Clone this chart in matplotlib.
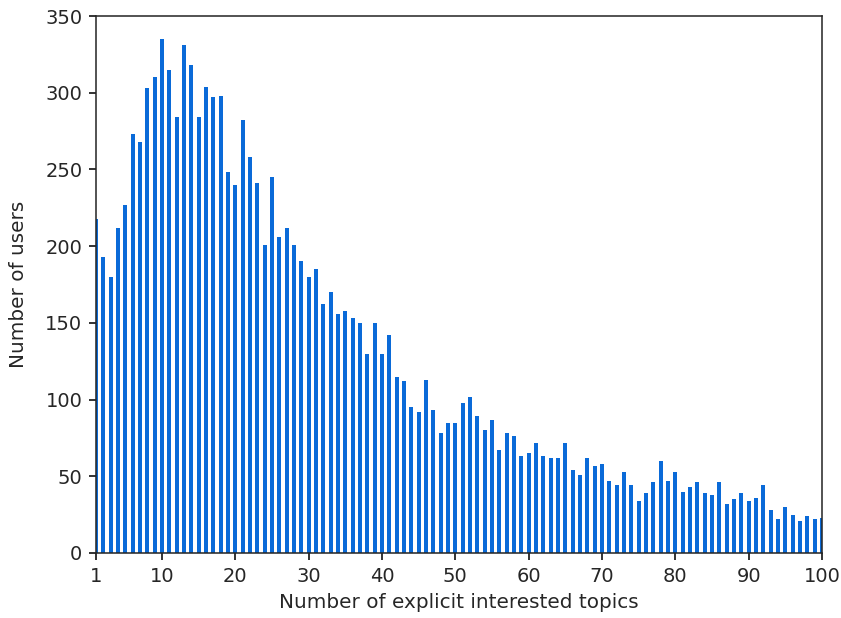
import numpy as np
import matplotlib
matplotlib.use('Agg')
import matplotlib.pyplot as plt

# number of explicit interested topics (1..100) and user counts
topics = list(range(1, 101))
users = [218, 193, 180, 212, 227, 273, 268, 303, 310, 335,
         315, 284, 331, 318, 284, 304, 297, 298, 248, 240,
         282, 258, 241, 201, 245, 206, 212, 201, 190, 180,
         185, 162, 170, 156, 158, 153, 150, 130, 150, 130,
         142, 115, 112, 95, 92, 113, 93, 78, 85, 85,
         98, 102, 89, 80, 87, 67, 78, 76, 63, 65,
         72, 63, 62, 62, 72, 54, 51, 62, 57, 58,
         47, 44, 53, 44, 34, 39, 46, 60, 47, 53,
         40, 43, 46, 39, 38, 46, 32, 35, 39, 34,
         36, 44, 28, 22, 30, 25, 21, 24, 22, 23]
xtick_labels = [1, 10, 20, 30, 40, 50, 60, 70, 80, 90, 100]

# the reference looks like a default matplotlib plot scaled up ~1.4x
s = 1.4
fig = plt.figure(figsize=(8.41, 6.18), dpi=100)
ax = fig.add_axes([96 / 841, 1 - 553 / 618, 726 / 841, 537 / 618])

ax.bar(topics, users, width=0.55, color='#0a6ad8')
ax.set_xlim(1, 100)
ax.set_ylim(0, 350)
ax.set_xticks(xtick_labels)
ax.set_yticks(np.arange(0, 351, 50))
ax.tick_params(labelsize=10 * s, length=3.5 * s, width=0.8 * s, pad=3.5 * s,
               labelcolor='#262626')
for sp in ax.spines.values():
    sp.set_linewidth(0.8 * s)
    sp.set_color('#262626')

ax.set_xlabel('Number of explicit interested topics', fontsize=10.3 * s,
              labelpad=4 * s, color='#262626')
ax.set_ylabel('Number of users', fontsize=10.3 * s, labelpad=9 * s, color='#262626')

plt.savefig('out.png', dpi=100)
